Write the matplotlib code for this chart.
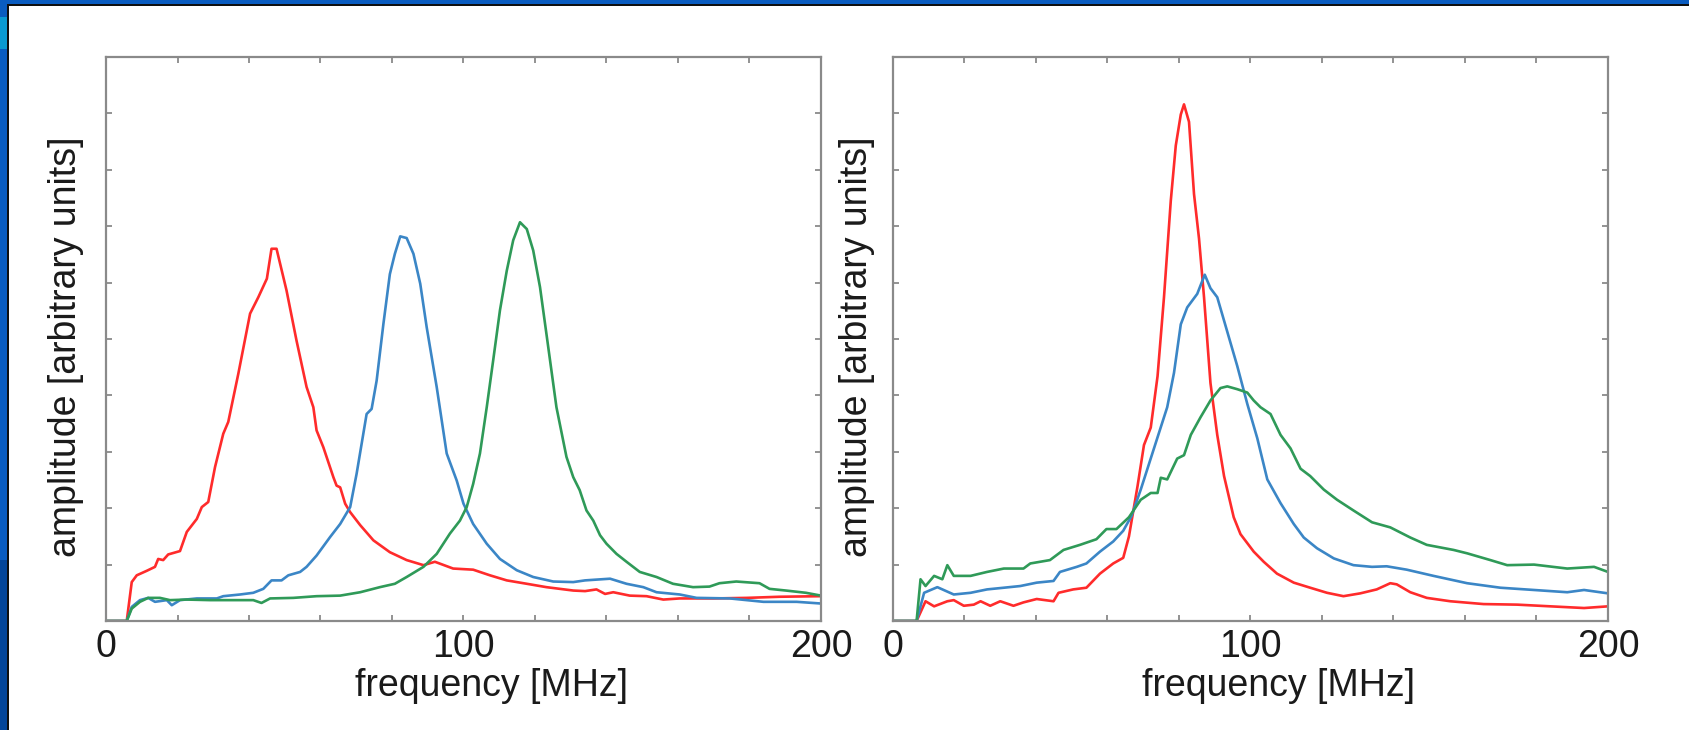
import matplotlib
matplotlib.use("Agg")
import matplotlib.pyplot as plt
from matplotlib.patches import Rectangle
from matplotlib.ticker import MultipleLocator, FixedLocator

plt.rcParams['font.family'] = ['Liberation Sans', 'DejaVu Sans']

# ---------------- data ----------------
# Left panel
left_red_x = [0, 5.8, 7.2, 8.6, 11.4, 13.7, 14.6, 16.0, 17.4, 20.7, 22.6, 25.4, 26.8, 28.6, 30.5,
              32.8, 34.2, 37.0, 40.3, 42.6, 45.0, 46.3, 47.7, 50.5, 53.3, 56.1, 58.0, 58.9, 60.8,
              63.6, 64.5, 65.5, 66.9, 68.3, 71.1, 74.8, 79.4, 84.1, 88.8, 92.0, 97.1, 102.7, 107.4,
              112.1, 117.7, 123.2, 130.7, 134.0, 137.2, 139.6, 141.9, 146.5, 151.2, 155.9, 160.5,
              169.9, 179.2, 188.5, 200]
left_red_y = [0, 0, 0.69, 0.81, 0.89, 0.96, 1.10, 1.08, 1.18, 1.24, 1.58, 1.81, 2.02, 2.11, 2.73,
              3.32, 3.53, 4.38, 5.45, 5.74, 6.07, 6.60, 6.60, 5.86, 4.97, 4.15, 3.79, 3.38, 3.08,
              2.55, 2.40, 2.37, 2.08, 1.93, 1.70, 1.43, 1.22, 1.08, 0.99, 1.05, 0.93, 0.91, 0.81,
              0.72, 0.66, 0.60, 0.54, 0.53, 0.56, 0.48, 0.51, 0.45, 0.44, 0.38, 0.40,
              0.40, 0.41, 0.43, 0.44]

left_blue_x = [0, 5.8, 7.2, 9.5, 11.8, 13.7, 17.0, 18.4, 20.7, 25.4, 31.0, 32.8, 37.5, 41.2, 44.0,
               46.3, 49.1, 51.0, 54.3, 56.1, 58.9, 62.7, 65.5, 68.3, 70.1, 72.9, 74.3, 75.7, 77.6,
               79.4, 80.8, 82.3, 84.1, 86.0, 87.9, 89.7, 92.5, 95.3, 98.1, 100.0, 102.7, 106.5,
               110.2, 114.9, 119.5, 125.1, 130.7, 134.0, 136.3, 141.0, 145.6, 150.3, 154.0, 160.5,
               165.2, 174.5, 183.9, 193.2, 200]
left_blue_y = [0, 0, 0.25, 0.37, 0.41, 0.34, 0.37, 0.28, 0.37, 0.40, 0.40, 0.44, 0.47, 0.50, 0.57,
               0.72, 0.72, 0.81, 0.87, 0.96, 1.16, 1.49, 1.72, 2.02, 2.61, 3.67, 3.76, 4.26, 5.27,
               6.15, 6.51, 6.82, 6.79, 6.51, 5.98, 5.21, 4.15, 2.97, 2.49, 2.08, 1.72, 1.37,
               1.10, 0.90, 0.78, 0.70, 0.69, 0.72, 0.73, 0.75, 0.66, 0.60, 0.51, 0.47,
               0.41, 0.40, 0.34, 0.34, 0.31]

left_green_x = [0, 5.8, 7.2, 9.5, 11.8, 15.1, 17.9, 22.6, 29.1, 35.6, 41.2, 43.5, 45.9, 52.4, 58.9,
                65.5, 71.1, 76.6, 80.8, 84.1, 88.8, 92.5, 96.2, 99.0, 100.9, 102.7, 104.6, 106.5,
                108.3, 110.2, 112.1, 113.9, 115.8, 117.7, 119.5, 121.4, 123.2, 126.0, 128.8, 130.7,
                132.5, 134.4, 136.3, 138.2, 140.0, 142.8, 145.6, 149.3, 154.0, 158.6, 164.2, 168.8,
                171.6, 176.3, 182.8, 185.6, 190.2, 195.8, 200]
left_green_y = [0, 0, 0.22, 0.34, 0.41, 0.41, 0.37, 0.38, 0.37, 0.37, 0.37, 0.32, 0.40, 0.41, 0.44,
                0.45, 0.51, 0.60, 0.66, 0.78, 0.96, 1.19, 1.55, 1.78, 2.02, 2.43, 2.97, 3.79,
                4.62, 5.51, 6.21, 6.75, 7.07, 6.95, 6.57, 5.92, 5.09, 3.79, 2.91, 2.55,
                2.32, 1.96, 1.78, 1.52, 1.37, 1.19, 1.05, 0.87, 0.78, 0.66, 0.60, 0.61,
                0.67, 0.70, 0.67, 0.57, 0.54, 0.50, 0.45]

# Right panel
right_red_x = [0, 6.6, 9.1, 11.5, 15.2, 17.0, 19.8, 22.6, 24.5, 27.2, 30.0, 33.7, 36.5, 40.2, 44.9,
               46.3, 50.4, 54.1, 57.9, 61.6, 64.4, 66.0, 68.4, 70.2, 72.1, 74.0, 75.8, 77.7, 79.1,
               80.5, 81.4, 82.8, 84.2, 85.6, 87.0, 88.8, 90.7, 92.6, 95.3, 97.2, 100.9, 103.7,
               107.4, 112.1, 116.7, 121.4, 126.0, 130.7, 135.3, 139.1, 140.9, 144.7, 149.3,
               155.9, 165.2, 174.6, 183.9, 193.3, 200]
right_red_y = [0, 0, 0.35, 0.26, 0.35, 0.37, 0.27, 0.29, 0.35, 0.27, 0.35, 0.27, 0.33, 0.39, 0.35,
               0.50, 0.56, 0.59, 0.84, 1.02, 1.12, 1.50, 2.39, 3.12, 3.43, 4.34, 5.74, 7.45, 8.43,
               8.98, 9.16, 8.85, 7.57, 6.78, 5.74, 4.22, 3.30, 2.57, 1.84, 1.54, 1.23, 1.05,
               0.84, 0.68, 0.59, 0.50, 0.44, 0.49, 0.56, 0.67, 0.65, 0.51, 0.41,
               0.35, 0.30, 0.29, 0.26, 0.23, 0.26]

right_blue_x = [0, 6.6, 8.7, 12.4, 17.0, 21.7, 26.3, 31.0, 35.6, 40.2, 44.9, 46.7, 51.4, 54.1,
                57.9, 61.6, 64.4, 66.7, 69.3, 73.0, 76.7, 78.6, 80.5, 82.3, 85.1, 87.2, 88.8,
                90.7, 93.5, 96.3, 99.1, 101.9, 104.7, 108.4, 112.1, 114.9, 118.6, 123.3, 128.8,
                134.0, 138.1, 143.7, 151.2, 160.6, 169.9, 179.3, 188.6, 193.3, 200]
right_blue_y = [0, 0, 0.50, 0.60, 0.47, 0.50, 0.56, 0.59, 0.62, 0.68, 0.71, 0.87, 0.96, 1.02,
                1.23, 1.41, 1.60, 1.86, 2.33, 3.06, 3.79, 4.40, 5.26, 5.56, 5.80, 6.14, 5.90,
                5.74, 5.13, 4.52, 3.85, 3.24, 2.51, 2.09, 1.72, 1.48, 1.29, 1.11, 0.99,
                0.96, 0.97, 0.91, 0.80, 0.67, 0.59, 0.55, 0.51, 0.55, 0.49]

right_green_x = [0, 6.6, 7.7, 9.1, 11.5, 13.8, 15.2, 17.0, 21.7, 26.3, 31.0, 36.5, 38.4, 43.9,
                 47.7, 52.3, 56.9, 59.7, 62.5, 66.0, 69.3, 72.1, 74.0, 74.9, 76.7, 79.5, 81.4,
                 83.3, 86.0, 88.8, 91.6, 93.5, 96.3, 99.1, 100.9, 102.8, 105.6, 108.4, 111.2,
                 114.0, 116.7, 120.5, 124.2, 128.8, 134.0, 139.1, 144.7, 149.3, 156.8, 160.6,
                 167.1, 171.8, 179.3, 188.6, 196.1, 200]
right_green_y = [0, 0, 0.74, 0.62, 0.80, 0.74, 0.99, 0.80, 0.80, 0.87, 0.93, 0.93, 1.02, 1.08,
                 1.26, 1.35, 1.45, 1.63, 1.63, 1.84, 2.15, 2.27, 2.27, 2.54, 2.51, 2.88, 2.94,
                 3.30, 3.61, 3.91, 4.13, 4.16, 4.11, 4.05, 3.91, 3.79, 3.67, 3.30, 3.06,
                 2.70, 2.57, 2.33, 2.15, 1.96, 1.75, 1.66, 1.48, 1.35, 1.26, 1.20,
                 1.08, 0.99, 1.00, 0.93, 0.96, 0.87]

xtick_values = [0, 20, 40, 60, 80, 100, 120, 140, 160, 180, 200]
xtick_labels = ['0', '', '', '', '', '100', '', '', '', '', '200']
x_label = 'frequency [MHz]'
y_label = 'amplitude [arbitrary units]'

# ---------------- styling ----------------
RED = '#ff2b2b'
BLUE = '#3b86c6'
GREEN = '#2f9a58'
SPINE = '#8a8a8a'
TEXT = '#1a1a1a'
FS = 27

W, H = 1690, 730
fig = plt.figure(figsize=(W / 100, H / 100), dpi=100)
fig.patch.set_facecolor('white')

def px_rect(x, y, w, h, color):
    fig.patches.append(Rectangle((x / W, 1 - (y + h) / H), w / W, h / H,
                                 transform=fig.transFigure, facecolor=color,
                                 edgecolor='none', zorder=0))

# slide frame on the left and top
px_rect(0, 0, 7, H, '#0a5cc0')
px_rect(0, 560, 7, H - 560, '#04469a')
px_rect(0, 17, 7, 32, '#0a9ad2')
px_rect(0, 0, W, 4, '#0a5cc0')
px_rect(7, 4, 2, H - 4, '#101010')
px_rect(7, 4, W - 7, 2, '#101010')

ax_w = 715 / W
ax_h = 564 / H
ax_b = (H - 621) / H
axL = fig.add_axes([106 / W, ax_b, ax_w, ax_h])
axR = fig.add_axes([893 / W, ax_b, ax_w, ax_h])

panels = [
    (axL, 9.7, [(left_red_x, left_red_y, RED), (left_blue_x, left_blue_y, BLUE),
                (left_green_x, left_green_y, GREEN)]),
    (axR, 6.8, [(right_red_x, right_red_y, RED), (right_blue_x, right_blue_y, BLUE),
                (right_green_x, right_green_y, GREEN)]),
]

for ax, ypad, series in panels:
    for xs, ys, c in series:
        ax.plot(xs, ys, color=c, lw=1.9, solid_joinstyle='round')
    ax.set_xlim(0, 200)
    ax.set_ylim(0, 10)
    ax.xaxis.set_major_locator(FixedLocator(xtick_values))
    ax.set_xticklabels(xtick_labels)
    ax.yaxis.set_major_locator(MultipleLocator(1))
    ax.set_yticklabels([])
    ax.tick_params(direction='in', length=4, width=1.3, color=SPINE,
                   top=True, right=True, labelsize=FS, labelcolor=TEXT, pad=6)
    for sp in ax.spines.values():
        sp.set_color(SPINE)
        sp.set_linewidth(1.6)
    ax.set_xlabel(x_label, fontsize=FS, color=TEXT, labelpad=2, x=0.539)
    ax.set_ylabel(y_label, fontsize=FS, color=TEXT, labelpad=ypad, y=0.486)

fig.savefig('out.png', dpi=100, facecolor='white')
